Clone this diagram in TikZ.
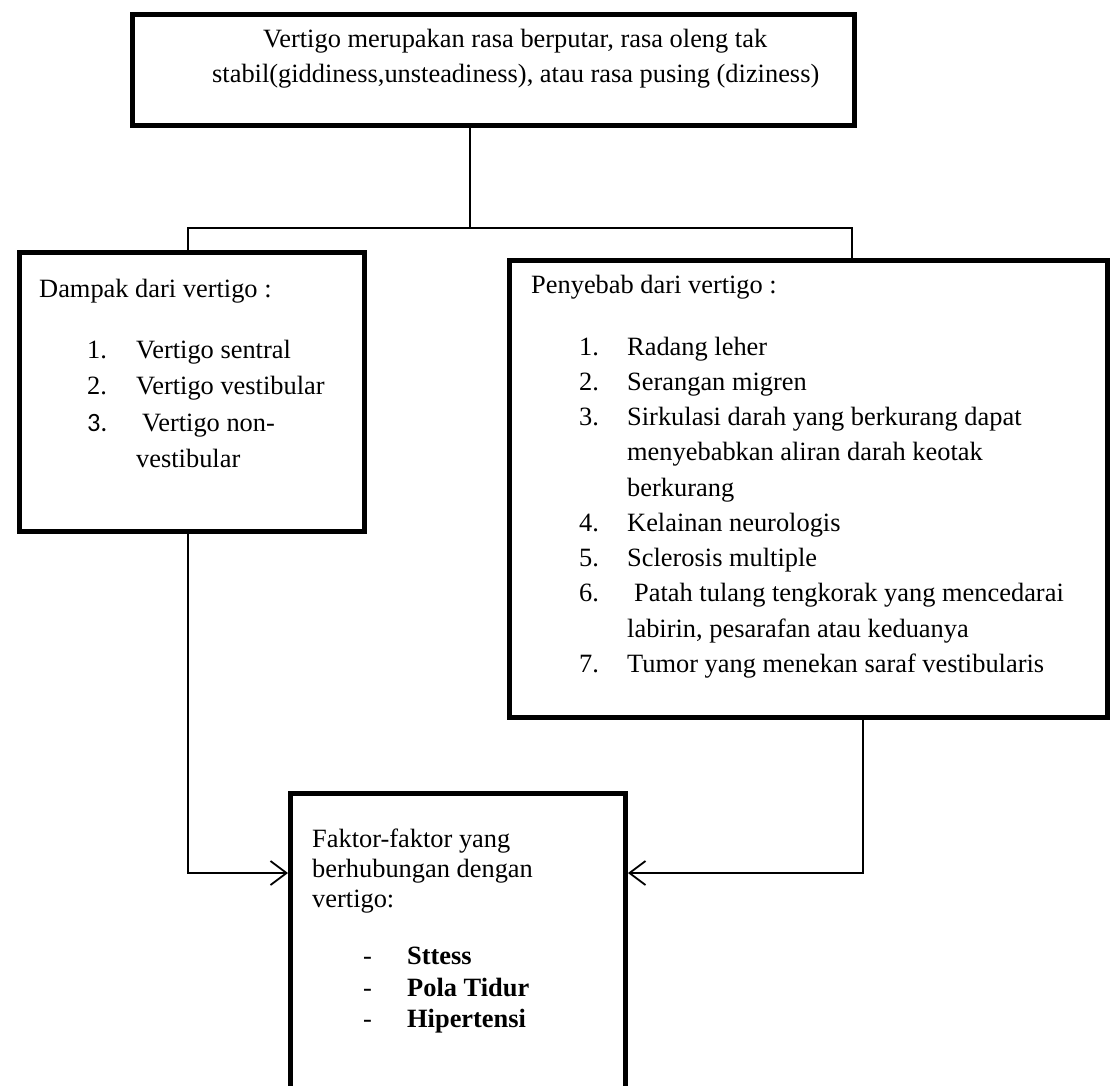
\documentclass[tikz,border=0pt]{standalone}
\usepackage{fontspec}
\setmainfont{Liberation Serif}
\newfontfamily\calibrifont{Carlito}
\usetikzlibrary{arrows.meta,positioning}
\tikzset{
  box/.style={draw,line width=5pt,anchor=north west,inner sep=0pt},
  link/.style={line width=1.8pt},
  arr/.style={link,-{Straight Barb[length=16pt,width=24pt,line width=1.8pt]}},
  txt/.style={anchor=base west,inner sep=0pt,font=\fontsize{26.4}{30}\selectfont},
}

\begin{document}
\begin{tikzpicture}[x=1pt,y=-1pt]
\path[use as bounding box,fill=white] (0,0) rectangle (1114,1085);
% kotak
\node[box,minimum width=722pt,minimum height=111pt] (definisi) at (130,12) {};
\node[box,minimum width=345pt,minimum height=279pt] (dampak) at (17,250) {};
\node[box,minimum width=598pt,minimum height=457pt] (penyebab) at (507,258) {};
\node[box,minimum width=335pt,minimum height=340pt] (faktor) at (288,791) {};
% teks definisi
\node[txt] (def1) at (263,47) {Vertigo merupakan rasa berputar, rasa oleng tak};
\node[txt] (def2) at (212,82) {stabil(giddiness,unsteadiness), atau rasa pusing (diziness)};
% teks dampak
\node[txt] (dmpjudul) at (39,297) {Dampak dari vertigo :};
\node[txt] (dmpn1) at (87,358) {1.};
\node[txt] (dmpt1) at (136,358) {Vertigo sentral};
\node[txt] (dmpn2) at (87,394) {2.};
\node[txt] (dmpt2) at (136,394) {Vertigo vestibular};
\node[txt] (dmpn3) at (87,431) {\calibrifont 3.};
\node[txt] (dmpt3) at (142,431) {Vertigo non-};
\node[txt] (dmpt3b) at (136,467) {vestibular};
% teks penyebab
\node[txt] (pybjudul) at (531,293) {Penyebab dari vertigo :};
\node[txt] (pybn1) at (579,355) {1.};
\node[txt] (pybt1) at (627,355) {Radang leher};
\node[txt] (pybn2) at (579,390) {2.};
\node[txt] (pybt2) at (627,390) {Serangan migren};
\node[txt] (pybn3) at (579,425) {3.};
\node[txt] (pybt3) at (627,425) {Sirkulasi darah yang berkurang dapat};
\node[txt] (pybt3b) at (627,460) {menyebabkan aliran darah keotak};
\node[txt] (pybt3c) at (627,496) {berkurang};
\node[txt] (pybn4) at (579,531) {4.};
\node[txt] (pybt4) at (627,531) {Kelainan neurologis};
\node[txt] (pybn5) at (579,566) {5.};
\node[txt] (pybt5) at (627,566) {Sclerosis multiple};
\node[txt] (pybn6) at (579,601) {6.};
\node[txt] (pybt6) at (634,601) {Patah tulang tengkorak yang mencedarai};
\node[txt] (pybt6b) at (627,637) {labirin, pesarafan atau keduanya};
\node[txt] (pybn7) at (579,672) {7.};
\node[txt] (pybt7) at (627,672) {Tumor yang menekan saraf vestibularis};
% teks faktor
\node[txt] (fkt1) at (312,847) {Faktor-faktor yang};
\node[txt] (fkt2) at (312,877) {berhubungan dengan};
\node[txt] (fkt3) at (312,907) {vertigo:};
\node[txt] (fktd1) at (363,964) {-};
\node[txt,font=\fontsize{26.4}{30}\selectfont\bfseries] (fkti1) at (407,964) {Sttess};
\node[txt] (fktd2) at (363,996) {-};
\node[txt,font=\fontsize{26.4}{30}\selectfont\bfseries] (fkti2) at (407,996) {Pola Tidur};
\node[txt] (fktd3) at (363,1027) {-};
\node[txt,font=\fontsize{26.4}{30}\selectfont\bfseries] (fkti3) at (407,1027) {Hipertensi};
% garis penghubung
\coordinate (cabang) at (470,228);
\coordinate (cabkiri) at (188,228);
\coordinate (cabkanan) at (852,228);
\coordinate (masuk) at (0,873);
\coordinate (turun) at (863,0);
\draw[link] (definisi.south -| cabang) -- (cabang);
\draw[link] (dampak.north -| cabkiri) |- (cabkanan) -- (penyebab.north -| cabkanan);
\draw[arr] (dampak.south -| cabkiri) |- (faktor.west |- masuk);
\draw[arr] (penyebab.south -| turun) |- (faktor.east |- masuk);
\end{tikzpicture}
\end{document}
